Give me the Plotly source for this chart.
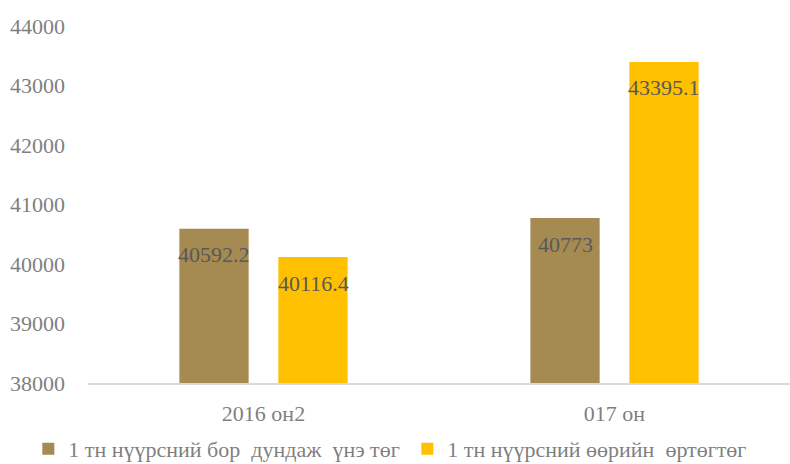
import plotly.graph_objects as go

categories = ["2016 он2", "017 он"]
series_names = ["1 тн нүүрсний бор\u00a0 дундаж\u00a0 үнэ төг", "1 тн нүүрсний өөрийн\u00a0 өртөгтөг"]
brown_values = [40592.2, 40773]
gold_values = [40116.4, 43395.1]
brown_labels = ["40592.2", "40773"]
gold_labels = ["40116.4", "43395.1"]
y_ticks = [38000, 39000, 40000, 41000, 42000, 43000, 44000]
y_tick_text = ["38000", "39000", "40000", "41000", "42000", "43000", "44000"]

FONT = "Liberation Serif"
BROWN = "#A58A52"
GOLD = "#FFC000"

fig = go.Figure()
fig.add_trace(go.Bar(x=categories, y=brown_values, name=series_names[0],
                     marker=dict(color=BROWN, line=dict(width=0))))
fig.add_trace(go.Bar(x=categories, y=gold_values, name=series_names[1],
                     marker=dict(color=GOLD, line=dict(width=0))))

annotations = []
for vals, labs, shift in [(brown_values, brown_labels, -49.5), (gold_values, gold_labels, 49.5)]:
    for c, v, t in zip(categories, vals, labs):
        annotations.append(dict(x=c, y=v, text=t, showarrow=False, xref="x", yref="y",
                                xshift=shift, yshift=-26, yanchor="middle", xanchor="center",
                                font=dict(family=FONT, size=22, color="#595959")))

fig.update_layout(
    width=790, height=464,
    margin=dict(l=88, r=0, t=26, b=81, autoexpand=False),
    paper_bgcolor="white", plot_bgcolor="white",
    barmode="group", bargap=0.436, bargroupgap=0.3,
    font=dict(family=FONT, size=22, color="#7f7f7f"),
    showlegend=True,
    legend=dict(orientation="h", x=-0.085, xanchor="left", y=-0.185, yanchor="middle",
                font=dict(family=FONT, size=22, color="#7f7f7f"),
                bgcolor="rgba(0,0,0,0)", itemwidth=30, tracegroupgap=0,
                entrywidth=334, entrywidthmode="pixels"),
    annotations=annotations,
)
fig.update_yaxes(range=[38000, 44000], tickvals=y_ticks, ticktext=y_tick_text,
                 showgrid=False, zeroline=False,
                 showline=False, ticks="", ticklabelstandoff=22,
                 tickfont=dict(family=FONT, size=22, color="#7f7f7f"))
fig.update_xaxes(showgrid=False, showline=True, linecolor="#d9d9d9", linewidth=2, ticks="",
                 ticklabelstandoff=10,
                 tickfont=dict(family=FONT, size=22, color="#7f7f7f"))

fig.write_html("out.html", config={"displayModeBar": False},
               post_script="document.body.style.margin='0';")
